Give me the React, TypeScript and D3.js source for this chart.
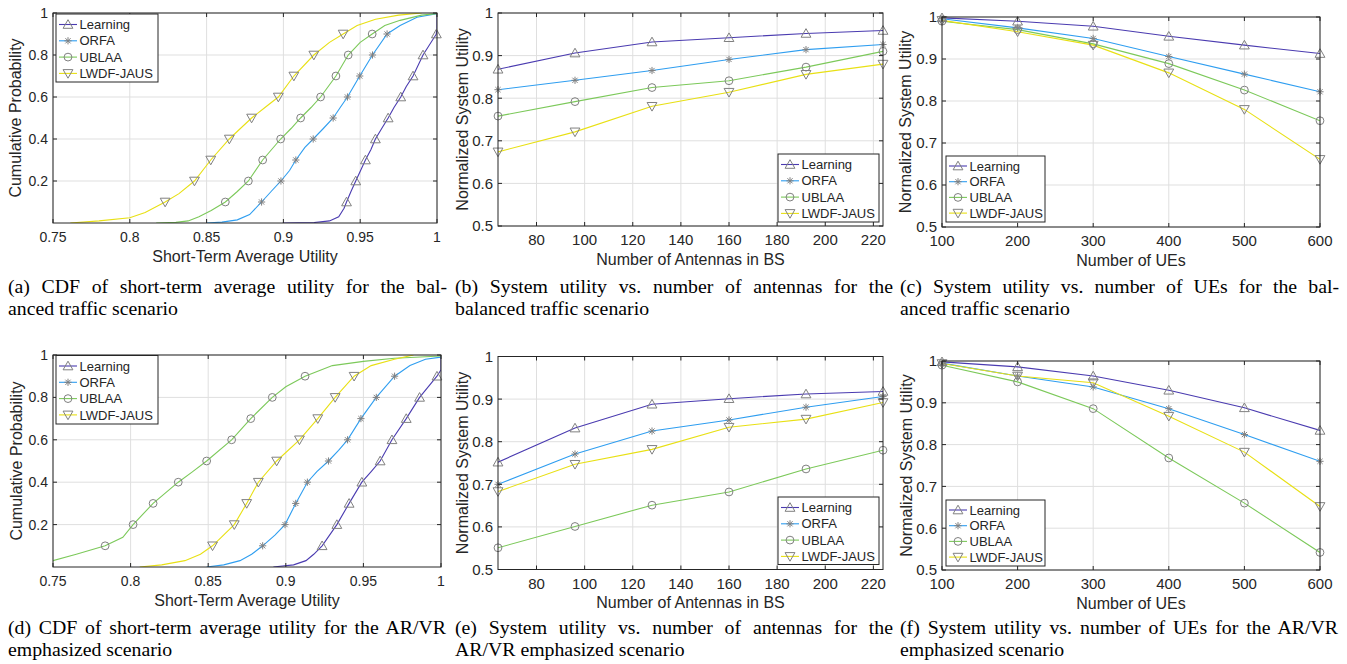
import React from 'react';
import * as d3 from 'd3';

// ---------- shared ----------
const SERIES_NAMES = ['Learning', 'ORFA', 'UBLAA', 'LWDF-JAUS'];
const SERIES_COLORS = ['#4a3bb0', '#2f9ef0', '#7cc95a', '#e8e014'];
const SERIES_MARKERS = ['triUp', 'star', 'circle', 'triDown'];
const MARKER_COLOR = '#808080';
const CDF_LEVELS = [0.1, 0.2, 0.3, 0.4, 0.5, 0.6, 0.7, 0.8, 0.9];

// ---------- panel (a): CDF balanced ----------
const A_LEARNING_MK = [0.9411, 0.9471, 0.9534, 0.9599, 0.9682, 0.9764, 0.9844, 0.9909, 0.9996];
const A_ORFA_MK = [0.8858, 0.8984, 0.9081, 0.9194, 0.9324, 0.9417, 0.9497, 0.958, 0.9675];
const A_UBLAA_MK = [0.8622, 0.8772, 0.8865, 0.8982, 0.9112, 0.9242, 0.9342, 0.9422, 0.9578];
const A_LWDF_MK = [0.823, 0.8421, 0.8527, 0.8648, 0.8793, 0.8967, 0.9068, 0.9198, 0.9389];
const A_LEARNING_TAIL: [number, number][] = [[0.8995, 0], [0.92, 0.002], [0.93, 0.01], [0.936, 0.03], [0.9395, 0.07], [0.944, 0.15], [0.957, 0.35], [0.964, 0.45], [0.972, 0.55], [0.98, 0.65], [0.9995, 0.905], [1.0, 0.92], [1.0, 1.0]];
const A_ORFA_TAIL: [number, number][] = [[0.8501, 0], [0.86, 0.004], [0.87, 0.015], [0.878, 0.04], [0.892, 0.15], [0.904, 0.25], [0.914, 0.36], [0.926, 0.45], [0.937, 0.55], [0.976, 0.94], [0.987, 0.98], [1.0, 0.997]];
const A_UBLAA_TAIL: [number, number][] = [[0.8172, 0], [0.83, 0.003], [0.838, 0.01], [0.845, 0.03], [0.853, 0.06], [0.87, 0.15], [0.905, 0.45], [0.918, 0.55], [0.95, 0.86], [0.966, 0.94], [0.976, 0.965], [0.99, 0.99], [1.0, 0.997]];
const A_LWDF_TAIL: [number, number][] = [[0.7613, 0], [0.78, 0.01], [0.8, 0.025], [0.81, 0.05], [0.832, 0.14], [0.872, 0.45], [0.888, 0.55], [0.93, 0.86], [0.948, 0.94], [0.96, 0.97], [0.975, 0.99], [0.99, 1.0]];

// ---------- panel (d): CDF AR/VR ----------
const D_LEARNING_MK = [0.9234, 0.9329, 0.9408, 0.949, 0.9608, 0.9684, 0.9776, 0.9862, 0.9974];
const D_ORFA_MK = [0.8851, 0.8995, 0.9064, 0.9139, 0.9275, 0.9398, 0.9484, 0.9583, 0.9701];
const D_UBLAA_MK = [0.7836, 0.8016, 0.8145, 0.8307, 0.849, 0.8651, 0.8774, 0.8913, 0.9124];
const D_LWDF_MK = [0.8528, 0.8668, 0.8748, 0.8823, 0.8941, 0.9088, 0.9206, 0.9318, 0.944];
const D_LEARNING_TAIL: [number, number][] = [[0.892, 0], [0.905, 0.01], [0.913, 0.03], [0.918, 0.06], [0.955, 0.45], [1.0, 0.93], [1.0, 1.0]];
const D_ORFA_TAIL: [number, number][] = [[0.849, 0], [0.86, 0.01], [0.8705, 0.03], [0.878, 0.06], [0.893, 0.15], [0.92, 0.45], [0.934, 0.55], [0.98, 0.95], [0.99, 0.98], [1.0, 0.99]];
const D_UBLAA_TAIL: [number, number][] = [[0.745, 0.02], [0.765, 0.06], [0.795, 0.14], [0.84, 0.45], [0.9, 0.85], [0.93, 0.95], [0.95, 0.97], [0.97, 0.985], [1.0, 0.995]];
const D_LWDF_TAIL: [number, number][] = [[0.8059, 0], [0.82, 0.01], [0.835, 0.03], [0.845, 0.06], [0.955, 0.95], [0.97, 0.98], [0.9823, 1.0]];

// ---------- panels (b),(e): vs antennas ----------
const ANTENNAS = [64, 96, 128, 160, 192, 224];
const B_LEARNING = [0.868, 0.906, 0.932, 0.942, 0.952, 0.959];
const B_ORFA = [0.82, 0.842, 0.865, 0.891, 0.914, 0.926];
const B_UBLAA = [0.758, 0.792, 0.825, 0.841, 0.873, 0.91];
const B_LWDF = [0.674, 0.721, 0.781, 0.814, 0.856, 0.88];
const E_LEARNING = [0.752, 0.832, 0.888, 0.901, 0.912, 0.918];
const E_ORFA = [0.7, 0.771, 0.825, 0.851, 0.881, 0.906];
const E_UBLAA = [0.551, 0.601, 0.651, 0.682, 0.736, 0.78];
const E_LWDF = [0.683, 0.747, 0.782, 0.834, 0.853, 0.892];

// ---------- panels (c),(f): vs UEs ----------
const UES = [100, 200, 300, 400, 500, 600];
const C_LEARNING = [0.998, 0.99, 0.978, 0.954, 0.933, 0.913];
const C_ORFA = [0.996, 0.974, 0.949, 0.906, 0.864, 0.822];
const C_UBLAA = [0.99, 0.97, 0.936, 0.889, 0.826, 0.753];
const C_LWDF = [0.992, 0.965, 0.933, 0.867, 0.78, 0.661];
const F_LEARNING = [0.998, 0.986, 0.964, 0.93, 0.888, 0.834];
const F_ORFA = [0.995, 0.964, 0.938, 0.886, 0.824, 0.76];
const F_UBLAA = [0.99, 0.95, 0.886, 0.768, 0.66, 0.542];
const F_LWDF = [0.994, 0.964, 0.948, 0.868, 0.782, 0.652];

// ---------- ticks ----------
const CDF_X_TICKS = [0.75, 0.8, 0.85, 0.9, 0.95, 1];
const CDF_Y_TICKS = [0.2, 0.4, 0.6, 0.8, 1];
const ANT_X_TICKS = [80, 100, 120, 140, 160, 180, 200, 220];
const UE_X_TICKS = [100, 200, 300, 400, 500, 600];
const UTIL_Y_TICKS = [0.5, 0.6, 0.7, 0.8, 0.9, 1];

// ---------- captions ----------
const CAPTIONS = [
  ['(a) CDF of short-term average utility for the bal-', 'anced traffic scenario'],
  ['(b) System utility vs. number of antennas for the', 'balanced traffic scenario'],
  ['(c) System utility vs. number of UEs for the bal-', 'anced traffic scenario'],
  ['(d) CDF of short-term average utility for the AR/VR', 'emphasized scenario'],
  ['(e) System utility vs. number of antennas for the', 'AR/VR emphasized scenario'],
  ['(f) System utility vs. number of UEs for the AR/VR', 'emphasized scenario'],
];

const SANS = "'Liberation Sans', Arial, Helvetica, sans-serif";
const SERIF = "'Liberation Serif', 'Times New Roman', serif";
const AX = '#262626';

function cdfSeries(marks: number[][], tails: [number, number][][]) {
  return marks.map((mk, i) => {
    const mpts: [number, number][] = mk.map((x, j) => [x, CDF_LEVELS[j]]);
    const pts = [...tails[i], ...mpts].sort((a, b) => a[1] - b[1] || a[0] - b[0]);
    return { points: pts, markers: mpts };
  });
}
function lineSeries(xs: number[], ys: number[][]) {
  return ys.map((y) => {
    const pts: [number, number][] = xs.map((x, j) => [x, y[j]]);
    return { points: pts, markers: pts };
  });
}

function Marker({ type, x, y }: { type: string; x: number; y: number }) {
  const common = { fill: 'none', stroke: MARKER_COLOR, strokeWidth: 1 };
  if (type === 'circle') return <circle cx={x} cy={y} r={3.9} {...common} />;
  let d = '';
  if (type === 'triUp') d = 'M0,-4.8L4.9,3.8L-4.9,3.8Z';
  else if (type === 'triDown') d = 'M0,4.8L4.9,-3.8L-4.9,-3.8Z';
  else d = 'M-3.6,0H3.6M0,-3.6V3.6M-2.6,-2.6L2.6,2.6M-2.6,2.6L2.6,-2.6';
  return <path d={d} transform={`translate(${x},${y})`} {...common} />;
}

const fmt = (v: number) => String(+v.toFixed(2));

function Panel(p: any) {
  const { id, x0, x1, y0, y1, xDomain, yDomain, xTicks, yTicks, tickFont, xTitle, yTitle, yTitleX, legend, series } = p;
  const xs = d3.scaleLinear().domain(xDomain).range([x0, x1]);
  const ys = d3.scaleLinear().domain(yDomain).range([y1, y0]);
  const line = d3.line<[number, number]>().x((d) => xs(d[0])).y((d) => ys(d[1]));
  const tl = 4;
  return (
    <g>
      <defs>
        <clipPath id={`clip-${id}`}>
          <rect x={x0} y={y0} width={x1 - x0} height={y1 - y0} />
        </clipPath>
      </defs>
      <rect x={x0} y={y0} width={x1 - x0} height={y1 - y0} fill="#fff" />
      {xTicks.map((t: number) => (
        <line key={'gx' + t} x1={xs(t)} x2={xs(t)} y1={y0} y2={y1} stroke="#dfdfdf" strokeWidth={1} />
      ))}
      {yTicks.map((t: number) => (
        <line key={'gy' + t} x1={x0} x2={x1} y1={ys(t)} y2={ys(t)} stroke="#dfdfdf" strokeWidth={1} />
      ))}
      <g clipPath={`url(#clip-${id})`}>
        {series.map((s: any, i: number) => (
          <path key={i} d={line(s.points) || ''} fill="none" stroke={SERIES_COLORS[i]} strokeWidth={1.1} />
        ))}
      </g>
      {series.map((s: any, i: number) =>
        s.markers.map((m: [number, number], j: number) => (
          <Marker key={i + '-' + j} type={SERIES_MARKERS[i]} x={xs(m[0])} y={ys(m[1])} />
        ))
      )}
      <rect x={x0} y={y0} width={x1 - x0} height={y1 - y0} fill="none" stroke={AX} strokeWidth={1} />
      {xTicks.map((t: number) => (
        <g key={'tx' + t}>
          <line x1={xs(t)} x2={xs(t)} y1={y1} y2={y1 - tl} stroke={AX} />
          <line x1={xs(t)} x2={xs(t)} y1={y0} y2={y0 + tl} stroke={AX} />
          <text x={xs(t)} y={y1 + 19} textAnchor="middle" fontFamily={SANS} fontSize={tickFont} fill={AX}>
            {fmt(t)}
          </text>
        </g>
      ))}
      {yTicks.map((t: number) => (
        <g key={'ty' + t}>
          <line x1={x0} x2={x0 + tl} y1={ys(t)} y2={ys(t)} stroke={AX} />
          <line x1={x1} x2={x1 - tl} y1={ys(t)} y2={ys(t)} stroke={AX} />
          <text x={x0 - 5} y={ys(t)} dy="0.36em" textAnchor="end" fontFamily={SANS} fontSize={tickFont} fill={AX}>
            {fmt(t)}
          </text>
        </g>
      ))}
      <text x={(x0 + x1) / 2} y={y1 + 38.5} textAnchor="middle" fontFamily={SANS} fontSize={16} fill={AX}>
        {xTitle}
      </text>
      <text
        transform={`translate(${yTitleX},${(y0 + y1) / 2}) rotate(-90)`}
        textAnchor="middle"
        fontFamily={SANS}
        fontSize={16}
        fill={AX}
      >
        {yTitle}
      </text>
      <g>
        <rect x={legend.x} y={legend.y} width={legend.w} height={legend.h} fill="#fff" stroke={AX} strokeWidth={1} />
        {SERIES_NAMES.map((n, i) => {
          const cy = legend.y + legend.first + i * legend.gap;
          return (
            <g key={n}>
              <line x1={legend.x + 3} x2={legend.x + 21} y1={cy} y2={cy} stroke={SERIES_COLORS[i]} strokeWidth={1.1} />
              <Marker type={SERIES_MARKERS[i]} x={legend.x + 12} y={cy} />
              <text x={legend.x + 23.5} y={cy} dy="0.36em" fontFamily={SANS} fontSize={13} fill={AX}>
                {n}
              </text>
            </g>
          );
        })}
      </g>
    </g>
  );
}

let _ctx: CanvasRenderingContext2D | null = null;
function measure(t: string, font: string) {
  if (!_ctx) _ctx = document.createElement('canvas').getContext('2d');
  if (!_ctx) return t.length * 9;
  _ctx.font = font;
  return _ctx.measureText(t).width;
}

function Caption({ lines, x, y, width }: { lines: string[]; x: number; y: number; width: number }) {
  const fs = 19.8;
  const font = `${fs}px 'Liberation Serif'`;
  const words = lines[0].split(' ');
  const natural = measure(lines[0], font);
  const extra = (width - natural) / (words.length - 1);
  return (
    <g>
      <text x={x} y={y} fontFamily={SERIF} fontSize={fs} fill="#000" wordSpacing={extra > 0 ? extra : 0}>
        {lines[0]}
      </text>
      <text x={x} y={y + 22} fontFamily={SERIF} fontSize={fs} fill="#000">
        {lines[1]}
      </text>
    </g>
  );
}

export default function App() {
  const aSeries = cdfSeries([A_LEARNING_MK, A_ORFA_MK, A_UBLAA_MK, A_LWDF_MK], [A_LEARNING_TAIL, A_ORFA_TAIL, A_UBLAA_TAIL, A_LWDF_TAIL]);
  const dSeries = cdfSeries([D_LEARNING_MK, D_ORFA_MK, D_UBLAA_MK, D_LWDF_MK], [D_LEARNING_TAIL, D_ORFA_TAIL, D_UBLAA_TAIL, D_LWDF_TAIL]);
  const bSeries = lineSeries(ANTENNAS, [B_LEARNING, B_ORFA, B_UBLAA, B_LWDF]);
  const eSeries = lineSeries(ANTENNAS, [E_LEARNING, E_ORFA, E_UBLAA, E_LWDF]);
  const cSeries = lineSeries(UES, [C_LEARNING, C_ORFA, C_UBLAA, C_LWDF]);
  const fSeries = lineSeries(UES, [F_LEARNING, F_ORFA, F_UBLAA, F_LWDF]);

  const cdfCommon = { xDomain: [0.75, 1], yDomain: [0, 1], xTicks: CDF_X_TICKS, yTicks: CDF_Y_TICKS, tickFont: 14, xTitle: 'Short-Term Average Utility', yTitle: 'Cumulative Probability' };
  const antCommon = { xDomain: [64, 224], yDomain: [0.5, 1], xTicks: ANT_X_TICKS, yTicks: UTIL_Y_TICKS, tickFont: 15, xTitle: 'Number of Antennas in BS', yTitle: 'Normalized System Utility' };
  const ueCommon = { xDomain: [100, 600], yDomain: [0.5, 1], xTicks: UE_X_TICKS, yTicks: UTIL_Y_TICKS, tickFont: 15, xTitle: 'Number of UEs', yTitle: 'Normalized System Utility' };

  const capX = [8, 455, 900];
  const capW = [439, 438, 439];

  return (
    <svg width={1347} height={664} style={{ position: 'absolute', left: 0, top: 0, background: '#fff' }}>
      <rect width={1347} height={664} fill="#fff" />
      <Panel id="a" {...cdfCommon} x0={53} x1={437} y0={13} y1={223} yTitleX={21} series={aSeries}
        legend={{ x: 56, y: 14, w: 102, h: 68, first: 10.5, gap: 16.3 }} />
      <Panel id="b" {...antCommon} x0={498} x1={883} y0={13} y1={226} yTitleX={467.5} series={bSeries}
        legend={{ x: 778, y: 154, w: 101, h: 68, first: 10.5, gap: 16.3 }} />
      <Panel id="c" {...ueCommon} x0={942} x1={1320} y0={17} y1={227} yTitleX={911} series={cSeries}
        legend={{ x: 946, y: 156, w: 99, h: 66, first: 10, gap: 15.7 }} />
      <Panel id="d" {...cdfCommon} x0={53} x1={441} y0={355} y1={567} yTitleX={21.5} series={dSeries}
        legend={{ x: 56, y: 355.5, w: 102, h: 68.5, first: 10.5, gap: 16.3 }} />
      <Panel id="e" {...antCommon} x0={498} x1={883} y0={356.5} y1={569.5} yTitleX={468} series={eSeries}
        legend={{ x: 778, y: 497, w: 101, h: 67.5, first: 10.5, gap: 16.3 }} />
      <Panel id="f" {...ueCommon} x0={942} x1={1320} y0={361} y1={570} yTitleX={911.5} series={fSeries}
        legend={{ x: 946, y: 500, w: 99, h: 66, first: 10, gap: 15.7 }} />
      {CAPTIONS.map((c, i) => (
        <Caption key={i} lines={c} x={capX[i % 3]} y={i < 3 ? 293 : 634} width={capW[i % 3]} />
      ))}
    </svg>
  );
}
